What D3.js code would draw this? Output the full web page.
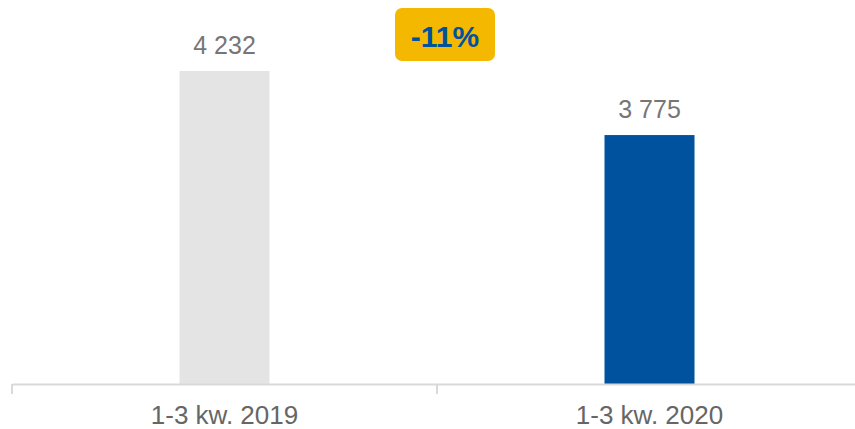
<!DOCTYPE html>
<html>
<head>
<meta charset="utf-8">
<script src="https://cdn.jsdelivr.net/npm/d3@7"></script>
<style>
  body { margin: 0; background: #fff; }
  svg { display: block; font-family: "Liberation Sans", Arial, sans-serif; }
</style>
</head>
<body>
<svg id="chart"></svg>
<script>
// data
const categories = ['1-3 kw. 2019', '1-3 kw. 2020'];
const values = [4232, 3775];
const barColors = ['#e4e4e4', '#00529e'];
const changeLabel = '-11%';

const svgWidth = 855, svgHeight = 429;
const baseY = 384;

const svg = d3.select('#chart')
  .attr('width', svgWidth)
  .attr('height', svgHeight);

const xScale = d3.scaleBand().domain(categories).range([12, 862]).padding(0);
const yScale = d3.scaleLinear().domain([2000, 4738]).range([baseY, 0]);
const barW = 90;

// bars
svg.selectAll('.bar')
  .data(values)
  .enter()
  .append('rect')
  .attr('x', (d, i) => xScale(categories[i]) + xScale.bandwidth() / 2 - barW / 2)
  .attr('y', d => yScale(d))
  .attr('width', barW)
  .attr('height', d => baseY - yScale(d))
  .attr('fill', (d, i) => barColors[i]);

// value labels
svg.selectAll('.val')
  .data(values)
  .enter()
  .append('text')
  .attr('x', (d, i) => xScale(categories[i]) + xScale.bandwidth() / 2)
  .attr('y', d => yScale(d) - 17)
  .attr('text-anchor', 'middle')
  .attr('font-size', '25px')
  .attr('fill', '#767676')
  .text(d => d3.format(',')(d).replace(/,/g, ' '));

// x axis
const xAxisGroup = svg.append('g').attr('transform', `translate(0, ${baseY})`);
xAxisGroup.call(d3.axisBottom(xScale).tickSize(0).tickPadding(22));
xAxisGroup.select('.domain').attr('stroke', '#d9d9d9').attr('stroke-width', 2);
xAxisGroup.selectAll('text')
  .attr('font-size', '26px')
  .attr('font-family', '"Liberation Sans", Arial, sans-serif')
  .attr('fill', '#666666');

// category separators
const edges = [xScale.range()[0]].concat(categories.map(c => xScale(c) + xScale.bandwidth()));
xAxisGroup.selectAll('.sep')
  .data(edges)
  .enter()
  .append('line')
  .attr('x1', d => d).attr('x2', d => d)
  .attr('y1', 0).attr('y2', 10)
  .attr('stroke', '#d9d9d9')
  .attr('stroke-width', 2);

// change badge
const badge = svg.append('g').attr('transform', 'translate(445, 34)');
badge.append('rect')
  .attr('x', -50).attr('y', -26)
  .attr('width', 100).attr('height', 53)
  .attr('rx', 7)
  .attr('fill', '#f5b800');
badge.append('text')
  .attr('x', 0).attr('y', 13)
  .attr('text-anchor', 'middle')
  .attr('font-size', '30px')
  .attr('font-weight', 'bold')
  .attr('fill', '#00529e')
  .text(changeLabel);
</script>
</body>
</html>
